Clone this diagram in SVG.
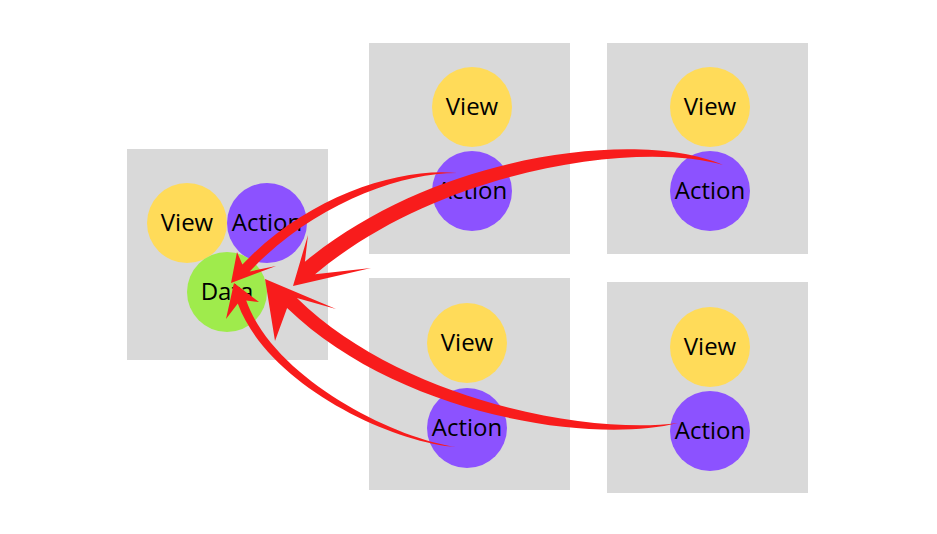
<svg xmlns="http://www.w3.org/2000/svg" width="937" height="534" viewBox="0 0 937 534">
<style>
.box{fill:#d9d9d9}
.view{fill:#ffdb59}
.action{fill:#8c52ff}
.data{fill:#9feb4c}
.lbl{font-family:"Open Sans","Liberation Sans",sans-serif;font-size:24px;fill:#000;text-anchor:middle}
.arrow{fill:#f81c1c}
</style>
<rect width="937" height="534" fill="#ffffff"/>
<g id="store">
<rect class="box" x="127" y="149" width="201" height="211"/>
<g id="store-view"><circle class="view" cx="187" cy="223" r="40"/><text class="lbl" x="187" y="231">View</text></g>
<g id="store-action"><circle class="action" cx="267" cy="223" r="40"/><text class="lbl" x="267" y="231">Action</text></g>
<g id="store-data"><circle class="data" cx="227" cy="292" r="40"/><text class="lbl" x="227" y="300">Data</text></g>
</g>
<g id="comp-tm">
<rect class="box" x="369" y="43" width="201" height="211"/>
<g id="tm-view"><circle class="view" cx="472" cy="107" r="40"/><text class="lbl" x="472" y="115">View</text></g>
<g id="tm-action"><circle class="action" cx="472" cy="191" r="40"/><text class="lbl" x="472" y="199">Action</text></g>
</g>
<g id="comp-tr">
<rect class="box" x="607" y="43" width="201" height="211"/>
<g id="tr-view"><circle class="view" cx="710" cy="107" r="40"/><text class="lbl" x="710" y="115">View</text></g>
<g id="tr-action"><circle class="action" cx="710" cy="191" r="40"/><text class="lbl" x="710" y="199">Action</text></g>
</g>
<g id="comp-bm">
<rect class="box" x="369" y="278" width="201" height="212"/>
<g id="bm-view"><circle class="view" cx="467" cy="343" r="40"/><text class="lbl" x="467" y="351">View</text></g>
<g id="bm-action"><circle class="action" cx="467" cy="428" r="40"/><text class="lbl" x="467" y="436">Action</text></g>
</g>
<g id="comp-br">
<rect class="box" x="607" y="282" width="201" height="211"/>
<g id="br-view"><circle class="view" cx="710" cy="347" r="40"/><text class="lbl" x="710" y="355">View</text></g>
<g id="br-action"><circle class="action" cx="710" cy="431" r="40"/><text class="lbl" x="710" y="439">Action</text></g>
</g>
<g id="connectors">
<path class="arrow" d="M457,173 C399.5,167.1 307.3,195.8 242.4,264.6 L237,252 L231,283 L276,266 L249.7,271.5 C312.7,204.2 400.5,172.9 457,173 Z"/>
<path class="arrow" d="M723,165 C640,129 437,152.6 304.9,261.8 L308,235 L293,286 L371,268 L315.1,274.2 C443,167.4 640,141 723,165 Z"/>
<path class="arrow" d="M457,447 C390.9,437.7 273.1,376.7 246.2,300.5 L259,302 L234,283 L226,319 L237.8,303.5 C266.9,383.3 389.2,442.4 457,447 Z"/>
<path class="arrow" d="M678,423 C590.3,435 402.9,401.6 296.9,298 L336,309 L265,279 L275,341 L287.1,308 C397.1,414.4 589.7,445 678,423 Z"/>
</g>
</svg>
